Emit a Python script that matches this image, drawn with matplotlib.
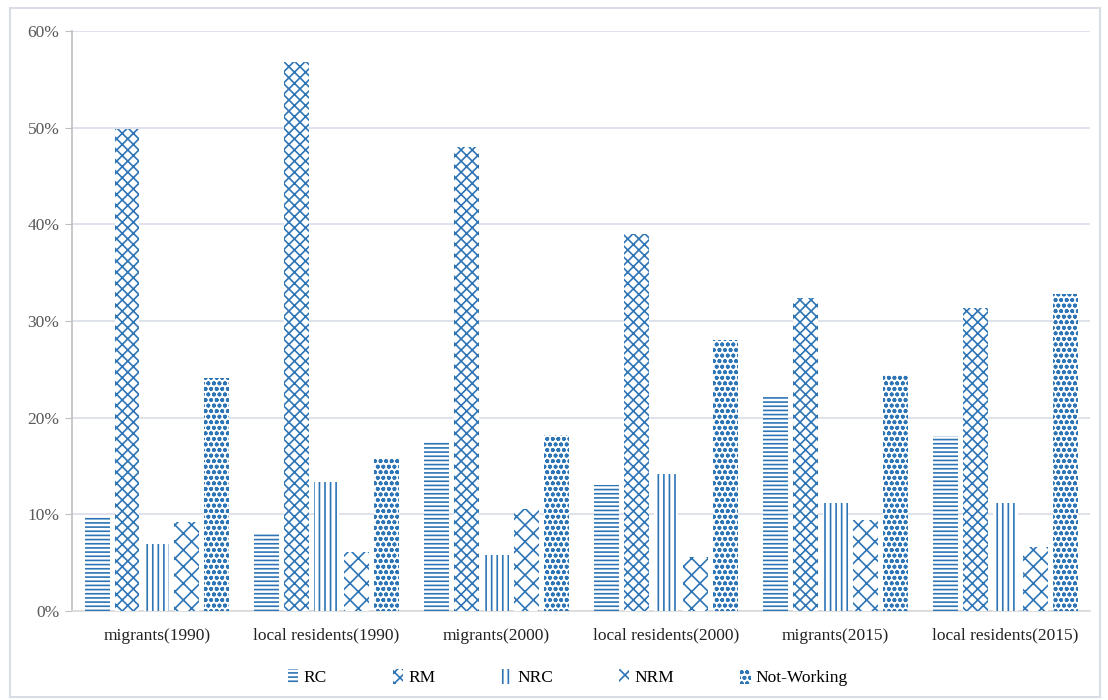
import matplotlib
matplotlib.use("Agg")
import matplotlib.pyplot as plt
import numpy as np
from matplotlib.patches import Rectangle
from matplotlib.ticker import PercentFormatter

# data (share of each group, %)
groups = ['migrants(1990)', 'local residents(1990)', 'migrants(2000)',
          'local residents(2000)', 'migrants(2015)', 'local residents(2015)']
series = ['RC', 'RM', 'NRC', 'NRM', 'Not-Working']
rc = [9.8, 8.0, 17.5, 13.0, 22.3, 18.1]
rm = [49.8, 56.8, 48.0, 39.0, 32.4, 31.3]
nrc = [6.9, 13.3, 5.8, 14.2, 11.2, 11.2]
nrm = [9.2, 6.1, 10.6, 5.6, 9.4, 6.6]
not_working = [24.1, 15.7, 18.2, 28.0, 24.4, 32.8]
values = [rc, rm, nrc, nrm, not_working]

hatches = ['----', 'xxx', '|||', 'xx', 'ooo']
blue = '#2e75b6'

plt.rcParams['font.family'] = ['Liberation Serif', 'DejaVu Serif']
plt.rcParams['hatch.linewidth'] = 1.2

fig = plt.figure(figsize=(11.08, 7.0), dpi=100)
ax = fig.add_axes([0.065, 0.127, 0.919, 0.829])

x = np.arange(len(groups))
width = 0.147
step = 0.176
for i, (name, vals) in enumerate(zip(series, values)):
    ax.bar(x + (i - 2) * step, np.array(vals) / 100, width,
           facecolor='white', edgecolor=blue, linewidth=0,
           hatch=hatches[i], label=name, zorder=3)

ax.set_xlim(-0.5, len(groups) - 0.5)
ax.set_ylim(0, 0.6)
ax.set_yticks(np.arange(0, 0.61, 0.1))
ax.yaxis.set_major_formatter(PercentFormatter(1.0, decimals=0))
ax.set_xticks(x)
ax.set_xticklabels(groups, fontsize=12.5, color='#222222')
ax.tick_params(axis='x', length=0, pad=12)
ax.tick_params(axis='y', labelsize=12.5, labelcolor='#595959', length=5,
               color='#bfbfbf', pad=4)

ax.grid(axis='y', color='#d9dde6', linewidth=1.2, zorder=0)
for s in ['top', 'right']:
    ax.spines[s].set_visible(False)
ax.spines['left'].set_color('#bfbfbf')
ax.spines['bottom'].set_color('#d9d9d9')
ax.spines['left'].set_linewidth(1.2)
ax.spines['bottom'].set_linewidth(1.2)

leg = ax.legend(loc='center', bbox_to_anchor=(0.487, -0.115), ncol=5,
                frameon=False, fontsize=12.5, handlelength=0.6,
                handleheight=0.9, handletextpad=0.3, columnspacing=3.8)

# light border around the whole figure
fig.patches.append(Rectangle((0.009, 0.004), 0.984, 0.985, transform=fig.transFigure,
                             fill=False, edgecolor='#d9dde6', linewidth=1.5))

fig.savefig('out.png', dpi=100)
